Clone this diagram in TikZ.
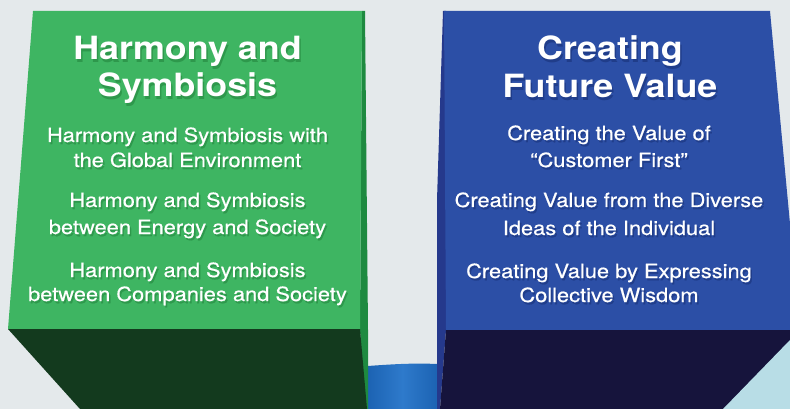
\documentclass[tikz,border=0pt]{standalone}
\usepackage{fontspec}
\setmainfont{TeX Gyre Heros}[FakeStretch=1.12]
\newfontfamily\itemfont{TeX Gyre Heros}[FakeStretch=1.12,FakeBold=0.5]
\definecolor{bg}{HTML}{E4E9EB}
\definecolor{gface}{HTML}{3EB562}
\definecolor{gshadow}{HTML}{2E984C}
\definecolor{gside}{HTML}{1E8A40}
\definecolor{gdark}{HTML}{133A1E}
\definecolor{bface}{HTML}{2C4FA6}
\definecolor{bshadow}{HTML}{203D8A}
\definecolor{bside}{HTML}{25398C}
\definecolor{bdark}{HTML}{16143C}
\definecolor{cyl}{HTML}{1C63B3}
\definecolor{cylhi}{HTML}{2E7ACB}
\definecolor{lblue}{HTML}{B8DDE6}
\newcommand{\shtxt}[2]{\rlap{\hspace{1.5pt}\raisebox{-2.2pt}{\textcolor{#1}{#2}}}#2}
\begin{document}
\begin{tikzpicture}[x=1pt,y=-1pt,
  title/.style={anchor=base,inner sep=0pt,text=white,font=\fontsize{32}{38}\selectfont\bfseries},
  item/.style={anchor=base,inner sep=0pt,text=white,font=\itemfont\fontsize{19.5}{24}\selectfont}]
\useasboundingbox (0,0) rectangle (790,409);
\clip (0,0) rectangle (790,409);
\fill[bg] (0,0) rectangle (790,409);
% middle cylinder
\shade[left color=cyl,right color=cyl,middle color=cylhi]
  (368,366) .. controls (395,364) and (415,363) .. (437,364) -- (437,409) -- (368,409) -- cycle;
% green pillar
\fill[gside] (362,11) -- (365,11) -- (368,330) -- (368,409) -- (364,409) -- (360,329) -- cycle;
\fill[gface] (33,11) -- (362,11) -- (360,329) -- (8,329) -- cycle;
\fill[gdark] (8,329) -- (360,329) -- (367,409) -- (80,409) -- cycle;
% blue pillar
\fill[bside] (443,11) -- (446,11) -- (446,330) -- (440,409) -- (437,409) -- (437,200) -- cycle;
\fill[bface] (444,11) -- (770,11) -- (800,330) -- (446,330) -- cycle;
\fill[bdark] (446,330) -- (800,330) -- (806,409) -- (440,409) -- cycle;
\fill[lblue] (790,340) -- (790,409) -- (723,409) -- cycle;
% green texts
\node[title] (gt1) at (187.5,60) {\shtxt{gshadow}{Harmony and}};
\node[title] (gt2) at (187.5,97) {\shtxt{gshadow}{Symbiosis}};
\node[item] (g1a) at (187.5,142) {\shtxt{gshadow}{Harmony and Symbiosis with}};
\node[item] (g1b) at (187.5,167) {\shtxt{gshadow}{the Global Environment}};
\node[item] (g2a) at (187.5,207) {\shtxt{gshadow}{Harmony and Symbiosis}};
\node[item] (g2b) at (187.5,234) {\shtxt{gshadow}{between Energy and Society}};
\node[item] (g3a) at (187.5,277) {\shtxt{gshadow}{Harmony and Symbiosis}};
\node[item] (g3b) at (187.5,301) {\shtxt{gshadow}{between Companies and Society}};
% blue texts
\node[title] (bt1) at (610,60) {\shtxt{bshadow}{Creating}};
\node[title] (bt2) at (610,98) {\shtxt{bshadow}{Future Value}};
\node[item] (b1a) at (609,140) {\shtxt{bshadow}{Creating the Value of}};
\node[item] (b1b) at (609,167) {\shtxt{bshadow}{“Customer First”}};
\node[item] (b2a) at (609,207) {\shtxt{bshadow}{Creating Value from the Diverse}};
\node[item] (b2b) at (609,235) {\shtxt{bshadow}{Ideas of the Individual}};
\node[item] (b3a) at (609,278) {\shtxt{bshadow}{Creating Value by Expressing}};
\node[item] (b3b) at (609,302) {\shtxt{bshadow}{Collective Wisdom}};
\end{tikzpicture}
\end{document}
